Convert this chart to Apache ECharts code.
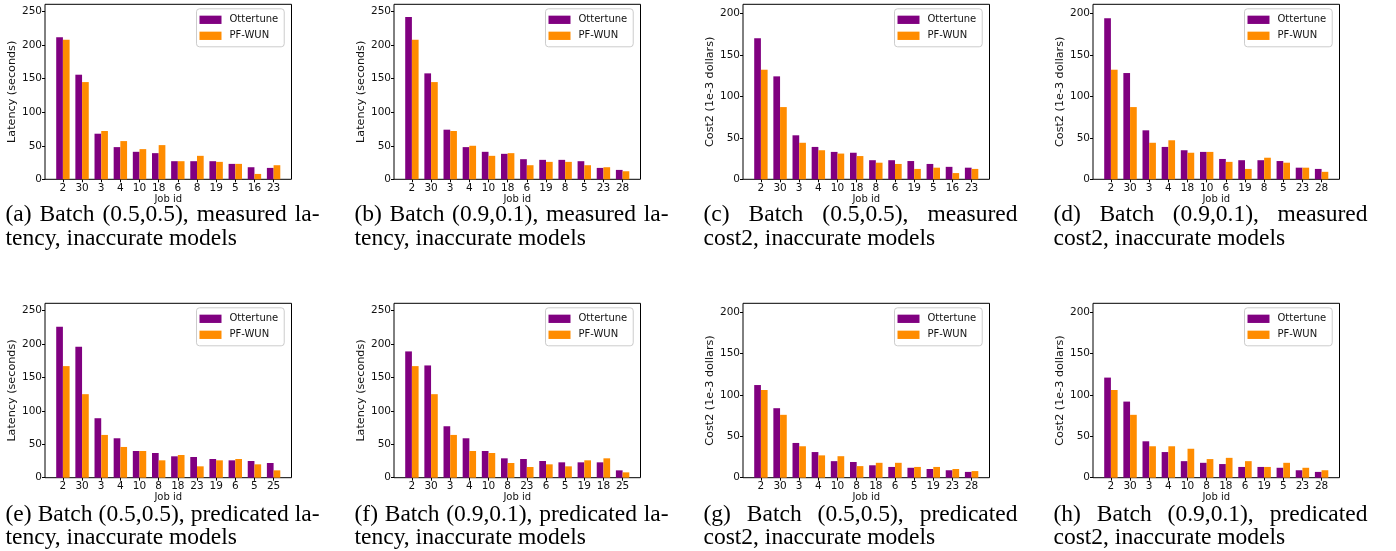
<!DOCTYPE html>
<html>
<head>
<meta charset="utf-8">
<script src="https://cdn.jsdelivr.net/npm/echarts@6/dist/echarts.min.js"></script>
<style>
  html, body { margin: 0; background: #fff; }
  #main { width: 1396px; height: 551px; }
</style>
</head>
<body>
<div id="main"></div>
<script>
// values
const jobsA = ['2', '30', '3', '4', '10', '18', '6', '8', '19', '5', '16', '23'];
const ottA = [212, 156, 68, 48, 41, 39, 27, 27, 27, 23, 18, 17];
const pfA = [208, 145, 72, 57, 45, 51, 27, 35, 26, 23, 8, 21];

const jobsB = ['2', '30', '3', '4', '10', '18', '6', '19', '8', '5', '23', '28'];
const ottB = [242, 158, 74, 48, 41, 38, 30, 29, 29, 27, 17, 14];
const pfB = [208, 145, 72, 50, 35, 39, 21, 26, 26, 21, 18, 12];

const jobsC = ['2', '30', '3', '4', '10', '18', '8', '6', '19', '5', '16', '23'];
const ottC = [170, 124, 53, 39, 33, 32, 23, 23, 22, 18.5, 15, 14];
const pfC = [132, 87, 44, 35, 31, 28, 20, 18.5, 12.5, 14, 7.5, 12.5];

const jobsD = ['2', '30', '3', '4', '18', '10', '6', '19', '8', '5', '23', '28'];
const ottD = [194, 128, 59, 39, 35, 33, 24.5, 23, 23, 22, 14, 12.5];
const pfD = [132, 87, 44, 47, 32, 33, 21, 12.5, 26, 20, 14, 9];

const jobsE = ['2', '30', '3', '4', '10', '8', '18', '23', '19', '6', '5', '25'];
const ottE = [226, 196, 89, 59, 40, 37, 32, 31, 28, 26, 25, 22];
const pfE = [167, 125, 64, 46, 40, 26, 34, 17, 26, 28, 20, 11];

const jobsF = ['2', '30', '3', '4', '10', '8', '23', '6', '5', '19', '18', '25'];
const ottF = [189, 168, 77, 59, 40, 29, 28, 25, 23, 23, 23, 11];
const pfF = [167, 125, 64, 40, 37, 22, 16, 20, 17, 26, 29, 8];

const jobsG = ['2', '30', '3', '4', '10', '8', '18', '6', '5', '19', '23', '28'];
const ottG = [112, 84, 42, 31, 20, 19, 15, 13, 12, 10.5, 9, 7];
const pfG = [106, 76, 38, 27, 26, 14, 18, 18, 13, 13, 10.5, 8];

const jobsH = ['2', '30', '3', '4', '10', '8', '18', '6', '19', '5', '23', '28'];
const ottH = [121, 92, 44, 31, 20, 18, 16.5, 13, 13, 12, 9, 7];
const pfH = [106, 76, 38, 38, 35, 22.5, 24, 20, 13, 18, 12, 9];

const seriesNames = ['Ottertune', 'PF-WUN'];
const latencyTicks = [0, 50, 100, 150, 200, 250];
const costTicks = [0, 50, 100, 150, 200];

const captions = [
  ['(a) Batch (0.5,0.5), measured la-', 'tency, inaccurate models'],
  ['(b) Batch (0.9,0.1), measured la-', 'tency, inaccurate models'],
  ['(c) Batch (0.5,0.5), measured', 'cost2, inaccurate models'],
  ['(d) Batch (0.9,0.1), measured', 'cost2, inaccurate models'],
  ['(e) Batch (0.5,0.5), predicated la-', 'tency, inaccurate models'],
  ['(f) Batch (0.9,0.1), predicated la-', 'tency, inaccurate models'],
  ['(g) Batch (0.5,0.5), predicated', 'cost2, inaccurate models'],
  ['(h) Batch (0.9,0.1), predicated', 'cost2, inaccurate models']
];

const panels = [
  { jobs: jobsA, ott: ottA, pf: pfA, lat: true },
  { jobs: jobsB, ott: ottB, pf: pfB, lat: true },
  { jobs: jobsC, ott: ottC, pf: pfC, lat: false },
  { jobs: jobsD, ott: ottD, pf: pfD, lat: false },
  { jobs: jobsE, ott: ottE, pf: pfE, lat: true },
  { jobs: jobsF, ott: ottF, pf: pfF, lat: true },
  { jobs: jobsG, ott: ottG, pf: pfG, lat: false },
  { jobs: jobsH, ott: ottH, pf: pfH, lat: false }
];

const PURPLE = '#800080';
const ORANGE = '#ff8c00';
const SANS = 'DejaVu Sans';
const SERIF_FONT = "23.5px 'Liberation Serif'";

const frameLeft = [45, 394, 743, 1093];
const frameTop = [4.3, 303.3];
const frameH = [175, 174.4];
const frameW = 246.5;
// matplotlib pads the x range by 5% beyond the outer bar edges
const pad = frameW * (1 - 12 / 12.87) / 2;

const measureCtx = document.createElement('canvas').getContext('2d');
measureCtx.font = SERIF_FONT;

function justify(text, x0, w, y) {
  const words = text.split(' ');
  const widths = words.map(s => measureCtx.measureText(s).width);
  const total = widths.reduce((a, b) => a + b, 0);
  const gap = (w - total) / (words.length - 1);
  let x = x0;
  return words.map((s, k) => {
    const el = { type: 'text', x: x, y: y, style: { text: s, font: SERIF_FONT, fill: '#000', verticalAlign: 'middle' } };
    x += widths[k] + gap;
    return el;
  });
}

const grid = [], xAxis = [], yAxis = [], series = [], legend = [], graphic = [];
const frames = [];

panels.forEach((p, i) => {
  const col = i % 4, row = Math.floor(i / 4);
  const fl = frameLeft[col], ft = frameTop[row], fh = frameH[row];
  const maxY = p.lat ? 261 : 210.8;

  grid.push({ left: fl + pad, top: ft, width: frameW - 2 * pad, height: fh, outerBoundsMode: 'none', containLabel: false });
  frames.push({ left: fl, top: ft, width: frameW, height: fh, show: true, borderColor: '#000', borderWidth: 1, backgroundColor: 'transparent', outerBoundsMode: 'none' });

  xAxis.push({
    type: 'category', gridIndex: i, data: p.jobs,
    axisLine: { show: false },
    axisTick: { show: true, alignWithLabel: true, length: 3, lineStyle: { color: '#000', width: 1 } },
    axisLabel: { interval: 0, margin: 3, fontFamily: SANS, fontSize: 10.5, color: '#111' },
    splitLine: { show: false },
    name: 'Job id', nameLocation: 'middle', nameGap: 12,
    nameTextStyle: { fontFamily: SANS, fontSize: 10, color: '#111' }
  });

  yAxis.push({
    type: 'value', gridIndex: i, min: 0, max: maxY, interval: 50, offset: pad,
    axisLine: { show: false },
    axisTick: { show: true, length: 3, lineStyle: { color: '#000', width: 1 } },
    axisLabel: {
      showMaxLabel: false, margin: 3, fontFamily: SANS, fontSize: 10.5, color: '#111',
      formatter: v => ((p.lat ? latencyTicks : costTicks).indexOf(v) >= 0 ? String(v) : '')
    },
    splitLine: { show: false },
    name: p.lat ? 'Latency (seconds)' : 'Cost2 (1e-3 dollars)',
    nameLocation: 'middle', nameRotate: 90, nameGap: 21,
    nameTextStyle: { fontFamily: SANS, fontSize: 11.2, color: '#111' }
  });

  series.push({
    type: 'bar', name: seriesNames[0], xAxisIndex: i, yAxisIndex: i, data: p.ott,
    barGap: '0%', barCategoryGap: '30%', itemStyle: { color: PURPLE }
  });
  series.push({
    type: 'bar', name: seriesNames[1], xAxisIndex: i, yAxisIndex: i, data: p.pf,
    barGap: '0%', barCategoryGap: '30%', itemStyle: { color: ORANGE }
  });

  legend.push({
    data: seriesNames, orient: 'vertical', left: fl + 151.5, top: ft + 4.5,
    icon: 'rect', itemWidth: 22, itemHeight: 8.3, itemGap: 4,
    padding: [5, 6, 5, 3], backgroundColor: 'rgba(255,255,255,0.8)',
    borderColor: '#ccc', borderWidth: 1, borderRadius: 3, selectedMode: false,
    textStyle: { fontFamily: SANS, fontSize: 10, color: '#111', lineHeight: 12, padding: [0, 0, 0, 3] }
  });

  const capY = row === 0 ? 215.3 : 514.5;
  const capX = fl - 39.5;
  graphic.push(...justify(captions[i][0], capX, 314, capY));
  graphic.push({ type: 'text', x: capX, y: capY + 23.5, style: { text: captions[i][1], font: SERIF_FONT, fill: '#000', verticalAlign: 'middle' } });
});

const chart = echarts.init(document.getElementById('main'), null, { renderer: 'canvas' });
chart.setOption({
  animation: false,
  backgroundColor: '#fff',
  grid: grid.concat(frames),
  xAxis: xAxis,
  yAxis: yAxis,
  legend: legend,
  series: series,
  graphic: graphic
});
</script>
</body>
</html>
